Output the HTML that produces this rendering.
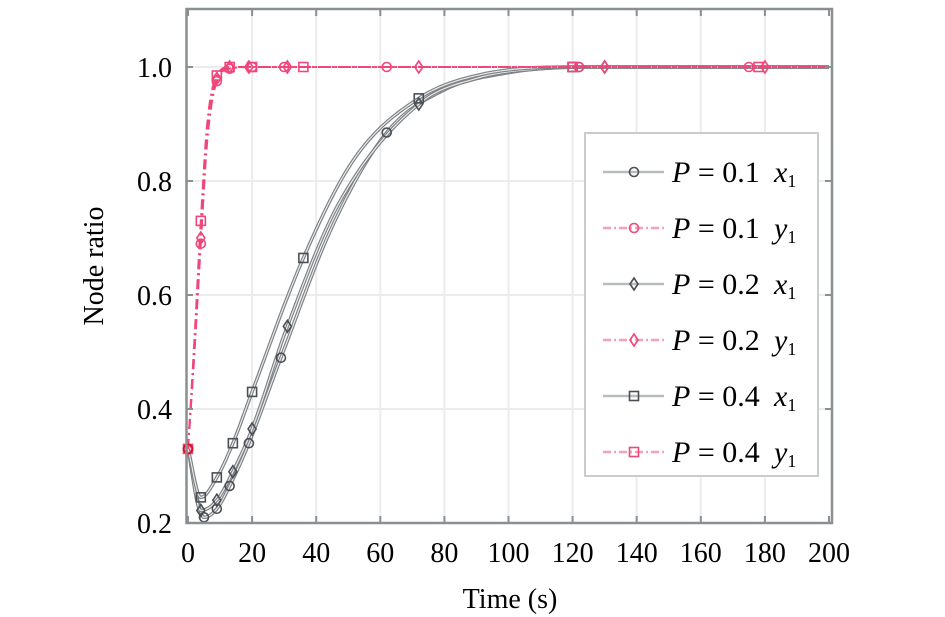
<!DOCTYPE html>
<html><head><meta charset="utf-8"><style>
html,body{margin:0;padding:0;background:#fff;}
svg{display:block;font-family:"Liberation Serif",serif;}
</style></head><body>
<svg id="s" width="945" height="617" viewBox="0 0 945 617" xmlns="http://www.w3.org/2000/svg">
<rect width="945" height="617" fill="#fff"/>
<g id="grid"></g>
<g id="curves"></g>
<rect x="186.5" y="9" width="645.5" height="514" fill="none" stroke="#8a8f92" stroke-width="2.5"/>
<g id="ticks"></g>
<text x="510" y="608" font-size="28" text-anchor="middle">Time (s)</text>
<text transform="translate(103,266) rotate(-90)" font-size="28" text-anchor="middle">Node ratio</text>
<g id="legend"></g>
</svg>
<script>
const NS="http://www.w3.org/2000/svg";
const X=t=>188+3.205*t, Y=v=>67+(1-v)*570;
function el(p,tag,a,txt){const e=document.createElementNS(NS,tag);for(const k in a)e.setAttribute(k,a[k]);if(txt!=null)e.textContent=txt;p.appendChild(e);return e;}
const grid=document.getElementById('grid'),ticks=document.getElementById('ticks'),cur=document.getElementById('curves'),leg=document.getElementById('legend');
for(let t=20;t<200;t+=20){el(grid,'line',{x1:X(t),x2:X(t),y1:9,y2:523,stroke:'#ececec','stroke-width':2});}
for(let v=0.4;v<1.05;v+=0.2){el(grid,'line',{x1:186,x2:832,y1:Y(v),y2:Y(v),stroke:'#ececec','stroke-width':2});}
for(let t=0;t<=200;t+=20){el(ticks,'line',{x1:X(t),x2:X(t),y1:523,y2:516,stroke:'#8a8f92','stroke-width':2});el(ticks,'line',{x1:X(t),x2:X(t),y1:9,y2:16,stroke:'#8a8f92','stroke-width':2});
 el(ticks,'text',{x:X(t),y:562,'font-size':28,'text-anchor':'middle'},String(t));}
[0.2,0.4,0.6,0.8,1.0].forEach(v=>{el(ticks,'line',{x1:186,x2:193,y1:Y(v),y2:Y(v),stroke:'#8a8f92','stroke-width':2});el(ticks,'line',{x1:832,x2:825,y1:Y(v),y2:Y(v),stroke:'#8a8f92','stroke-width':2});
 el(ticks,'text',{x:172,y:Y(v)+10,'font-size':28,'text-anchor':'end'},v.toFixed(1));});
function mono(pts){const n=pts.length,xs=pts.map(p=>p[0]),ys=pts.map(p=>p[1]);const d=[],m=[];
 for(let i=0;i<n-1;i++)d.push((ys[i+1]-ys[i])/(xs[i+1]-xs[i]));
 m[0]=d[0];m[n-1]=d[n-2];for(let i=1;i<n-1;i++){m[i]=(d[i-1]*d[i]<=0)?0:(d[i-1]+d[i])/2;}
 for(let i=0;i<n-1;i++){if(d[i]==0){m[i]=0;m[i+1]=0;continue;}const a=m[i]/d[i],b=m[i+1]/d[i],s=a*a+b*b;if(s>9){const t=3/Math.sqrt(s);m[i]=t*a*d[i];m[i+1]=t*b*d[i];}}
 return t=>{let i=0;while(i<n-2&&t>xs[i+1])i++;const h=xs[i+1]-xs[i],u=(t-xs[i])/h,u2=u*u,u3=u2*u;
  return (2*u3-3*u2+1)*ys[i]+(u3-2*u2+u)*h*m[i]+(-2*u3+3*u2)*ys[i+1]+(u3-u2)*h*m[i+1];};}
function path(f){let d='';for(let t=0;t<=200;t+=(t<20?0.25:1)){d+=(d?'L':'M')+X(t).toFixed(1)+','+Y(f(t)).toFixed(1);}return d;}
function marker(g,type,x,y,col){const a={fill:'none',stroke:col,'stroke-width':1.6};
 if(type=='o')el(g,'circle',Object.assign({cx:x,cy:y,r:4.5},a));
 else if(type=='s')el(g,'rect',Object.assign({x:x-4.5,y:y-4.5,width:9,height:9},a));
 else el(g,'polygon',Object.assign({points:`${x},${y-6} ${x+4},${y} ${x},${y+6} ${x-4},${y}`},a));}
const gray='#7d8184',pink='#f0467a';
const xs=[
 {m:'o',pts:[[0,.33],[5,.21],[9,.225],[13,.265],[19,.34],[29,.49],[45,.72],[62,.885],[80,.96],[100,.99],[122,1],[200,1]],mk:[5,9,13,19,29,62,122]},
 {m:'d',pts:[[0,.33],[4,.222],[9,.24],[14,.29],[20,.365],[31,.545],[47,.76],[72,.935],[90,.98],[110,.997],[130,1],[200,1]],mk:[4,9,14,20,31,72,130]},
 {m:'s',pts:[[0,.33],[4,.245],[9,.28],[14,.34],[20,.43],[36,.665],[52,.84],[72,.945],[90,.985],[120,1],[200,1]],mk:[4,9,14,20,36,72,120]}];
xs.forEach(c=>{c.f=mono(c.pts);const d=path(c.f);el(cur,'path',{d,fill:'none',stroke:gray,'stroke-width':3.5});el(cur,'path',{d,fill:'none',stroke:'#e8eaeb','stroke-width':1.2});});
const ys=[
 {m:'o',pts:[[0,.33],[2,.5],[4,.69],[6,.87],[9,.975],[13,.997],[20,1],[200,1]],mk:[0,4,9,13,20,30,62,122,175]},
 {m:'d',pts:[[0,.33],[2,.5],[4,.70],[6,.88],[9,.98],[13,1],[20,1],[200,1]],mk:[0,4,9,13,19,31,72,130,180]},
 {m:'s',pts:[[0,.33],[2,.52],[4,.73],[6,.9],[9,.985],[13,1],[20,1],[200,1]],mk:[0,4,9,13,20,36,120,178]}];
ys.forEach(c=>{c.f=mono(c.pts);el(cur,'path',{d:path(c.f),fill:'none',stroke:pink,'stroke-width':2,'stroke-dasharray':'10 4 2 4'});});
xs.forEach(c=>c.mk.forEach(t=>marker(cur,c.m,X(t),Y(c.f(t)),'#4a4f55')));
ys.forEach(c=>c.mk.forEach(t=>marker(cur,c.m,X(t),Y(c.f(t)),pink)));
marker(cur,'o',X(0),Y(.33),'#d0101a');
el(leg,'rect',{x:585,y:133,width:233,height:343,fill:'#fff',stroke:'#c8cccd','stroke-width':2});
const L=[['o','x',0,'0.1'],['o','y',1,'0.1'],['d','x',0,'0.2'],['d','y',1,'0.2'],['s','x',0,'0.4'],['s','y',1,'0.4']];
L.forEach((e,i)=>{const y=172+i*56;
 if(e[2])el(leg,'line',{x1:603,x2:664,y1:y,y2:y,stroke:'#f6a0bd','stroke-width':2.5,'stroke-dasharray':'8 3 2 3'});
 else el(leg,'line',{x1:603,x2:664,y1:y,y2:y,stroke:'#b8bcbc','stroke-width':2.5});
 marker(leg,e[0],634,y,e[2]?pink:'#4a4f55');
 const t=el(leg,'text',{x:672,y:y+10,'font-size':30});
 el(t,'tspan',{'font-style':'italic'},'P');el(t,'tspan',{},' = '+e[3]);el(t,'tspan',{'font-style':'italic',x:774},e[1]);el(t,'tspan',{'font-size':18,dy:5},'1');});
</script>
</body></html>
